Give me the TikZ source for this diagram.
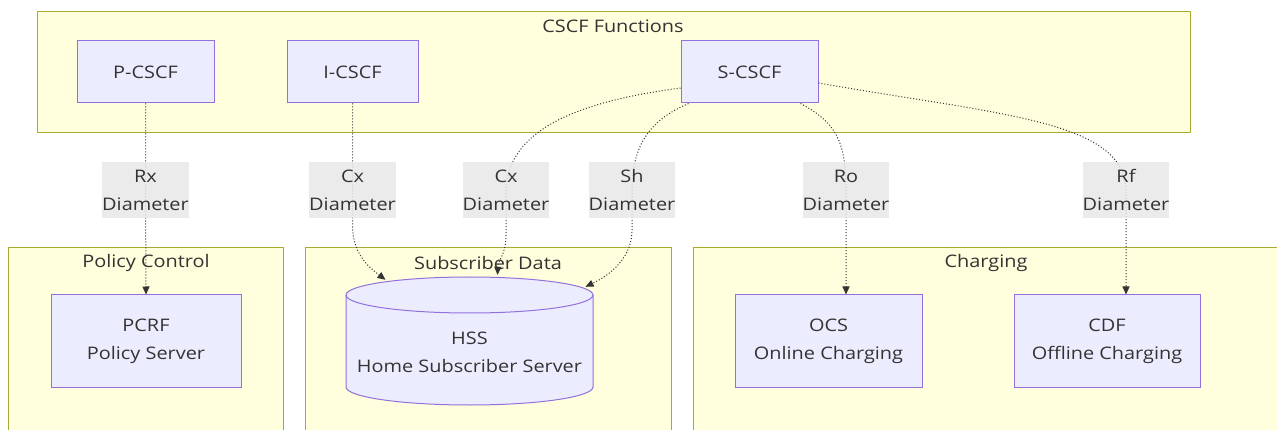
\documentclass[tikz,border=0pt]{standalone}
\usepackage{fontspec}
\setmainfont{Open Sans}[FakeStretch=1.15]
\usetikzlibrary{arrows.meta,calc}
\definecolor{clfill}{HTML}{FFFFDE}
\definecolor{cldraw}{HTML}{AAAA33}
\definecolor{ndfill}{HTML}{ECECFF}
\definecolor{nddraw}{HTML}{9370DB}
\definecolor{txt}{HTML}{333333}
\definecolor{lblfill}{HTML}{E8E8E8}
\begin{document}
\begin{tikzpicture}[x=1pt,y=-1pt,
  font=\fontsize{17.3}{28}\selectfont, text=txt,
  cluster/.style={draw=cldraw, fill=clfill, line width=1pt, inner sep=0, anchor=north west},
  ctitle/.style={inner sep=0},
  box/.style={draw=nddraw, fill=ndfill, line width=1pt, align=center, inner sep=0},
  lbl/.style={fill=lblfill, fill opacity=0.85, text opacity=1, align=center, inner sep=0,
              minimum width=86pt, minimum height=56pt},
  edge/.style={draw=txt, line width=1pt, dotted},
  arr/.style={edge, -{Triangle[length=8pt,width=7pt]}}]
\useasboundingbox (0,0) rectangle (1277,430);
\fill[white] (0,0) rectangle (1277,430);
% clusters
\node[cluster, minimum width=1153pt, minimum height=121pt] (cscf) at (37,11) {};
\node[ctitle] (cscft) at (613,26) {CSCF Functions};
\node[cluster, minimum width=275pt, minimum height=200pt] (pol) at (8,247) {};
\node[ctitle] (polt) at (146,263) {Policy Control};
\node[cluster, minimum width=366pt, minimum height=200pt] (sub) at (305,247) {};
\node[ctitle] (subt) at (488,263) {Subscriber Data};
\node[cluster, minimum width=600pt, minimum height=200pt] (chg) at (693,247) {};
\node[ctitle] (chgt) at (986,263) {Charging};
% nodes
\node[box, minimum width=137pt, minimum height=62pt] (pcscf) at (145.5,72) {P-CSCF};
\node[box, minimum width=131pt, minimum height=62pt] (icscf) at (352.5,72) {I-CSCF};
\node[box, minimum width=137pt, minimum height=62pt] (scscf) at (749.5,72) {S-CSCF};
\node[box, minimum width=190pt, minimum height=92pt] (pcrf) at (146,341) {PCRF\\Policy Server};
\node[box, minimum width=187pt, minimum height=92pt] (ocs) at (828.5,341) {OCS\\Online Charging};
\node[box, minimum width=186pt, minimum height=92pt] (cdf) at (1107,341) {CDF\\Offline Charging};
% HSS cylinder
\filldraw[draw=nddraw, fill=ndfill, line width=1pt]
  (346,295) -- (346,387) arc(180:360:123.5pt and 18pt) -- (593,295) arc(0:180:123.5pt and 18pt) -- cycle;
\draw[draw=nddraw, line width=1pt] (346,295) arc(180:360:123.5pt and 18pt);
\node[inner sep=0, minimum width=247pt, minimum height=129pt] (hss) at (469.5,341.5) {};
\node[align=center, inner sep=0] (hsstext) at ($(hss.center)+(0,11)$) {HSS\\Home Subscriber Server};
\coordinate (hssL) at ($(hss.north)+(-84,3)$);
\coordinate (hssM) at ($(hss.north)+(28,-2)$);
\coordinate (hssR) at ($(hss.north)+(116,10)$);
% edge label positions
\coordinate (rxp) at (145.5,190);
\coordinate (cx1p) at (352.5,190);
\coordinate (cx2p) at (506,190);
\coordinate (shp) at (632,190);
\coordinate (rop) at (846,190);
\coordinate (rfp) at (1126,190);
% edges
\draw[arr] (pcscf.south) -- (rxp) -- (pcrf.north);
\draw[arr] (icscf.south) -- (cx1p) -- (352.5,225) .. controls (352.5,255) and (370,268) .. (hssL);
\draw[arr] ($(scscf.west)+(0,16)$) .. controls (590,100) and (508,125) .. (cx2p) -- (506,235) .. controls (506,255) and (498,260) .. (hssM);
\draw[arr] ($(scscf.south west)+(8,0)$) .. controls (655,118) and (632,140) .. (shp) -- (632,230) .. controls (632,258) and (610,275) .. (hssR);
\draw[arr] ($(scscf.south east)+(-18,0)$) .. controls (835,122) and (846,140) .. (rop) -- ($(ocs.north)+(17.5,0)$);
\draw[arr] ($(scscf.east)+(0,11)$) .. controls (1000,115) and (1124,120) .. (rfp) -- ($(cdf.north)+(19,0)$);
% edge labels
\node[lbl] (rx) at (rxp) {Rx\\Diameter};
\node[lbl] (cx1) at (cx1p) {Cx\\Diameter};
\node[lbl] (cx2) at (cx2p) {Cx\\Diameter};
\node[lbl] (sh) at (shp) {Sh\\Diameter};
\node[lbl] (ro) at (rop) {Ro\\Diameter};
\node[lbl] (rf) at (rfp) {Rf\\Diameter};
\end{tikzpicture}
\end{document}
